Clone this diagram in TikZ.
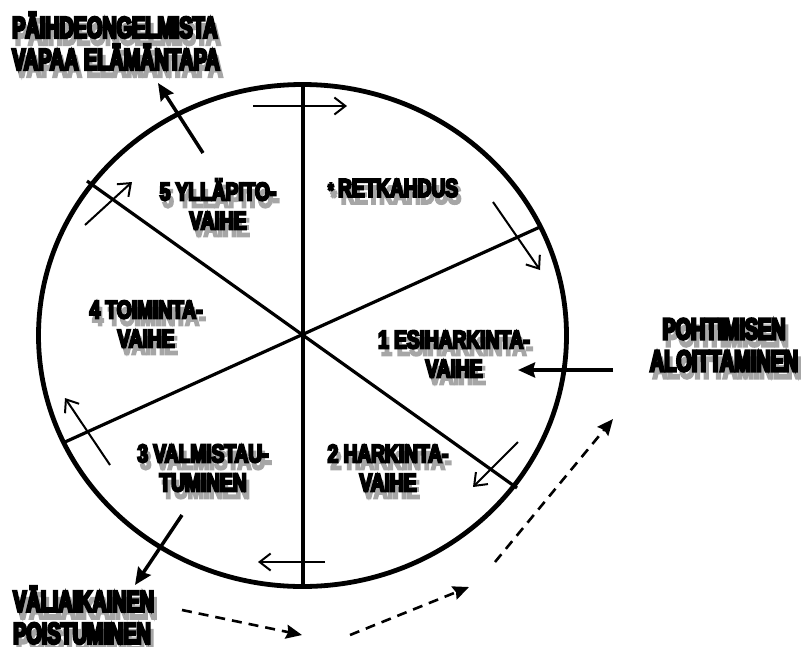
\documentclass[tikz,border=0pt]{standalone}
\usepackage{fontspec}
\usetikzlibrary{arrows.meta}
\newfontfamily\impfont{Liberation Sans Bold}[FakeStretch=0.66,FakeBold=8]
\newfontfamily\impfontb{Liberation Sans Bold}[FakeStretch=0.75,FakeBold=8]
\newcommand\shlabel[4]{%
  \node[#2,shd] (#1s) at ([shift={(3,7)}]#3) {#4};
  \node[#2] (#1) at (#3) {#4};}
\begin{document}
\begin{tikzpicture}[x=1pt,y=-1pt,
  lbl/.style={font=\impfontb\fontsize{25.5}{29}\selectfont, align=center, inner sep=0pt, text=black},
  lblbig/.style={font=\impfont\fontsize{30}{32}\selectfont, inner sep=0pt, text=black},
  shd/.style={text=black!35},
  rim/.style={line width=4.8pt},
  spoke/.style={line width=3.2pt},
  flow/.style={line width=2pt, -{Straight Barb[length=11pt,width=17pt]}},
  solidarr/.style={line width=3.5pt, -{Stealth[length=17pt,width=15pt,inset=2pt]}},
  dasharr/.style={line width=2.6pt, dash pattern=on 10pt off 7pt, -{Stealth[length=16pt,width=14pt,inset=2pt]}}]
\useasboundingbox (0,0) rectangle (811,646);
% circle and spokes
\coordinate (C) at (302.5,335.5);
\coordinate (vt) at (303,85);  \coordinate (vb) at (303,587);
\coordinate (d1a) at (87,181); \coordinate (d1b) at (517,488);
\coordinate (d2a) at (540,227); \coordinate (d2b) at (65,442);
\draw[rim] (C) ellipse [x radius=264, y radius=251];
\draw[spoke] (vt) -- (vb);
\draw[spoke] (d1a) -- (d1b);
\draw[spoke] (d2a) -- (d2b);
% flow arrows along the rim
\coordinate (a1s) at (253,106); \coordinate (a1e) at (347,106);
\coordinate (a2s) at (493,202); \coordinate (a2e) at (540,270);
\coordinate (a3s) at (518,442); \coordinate (a3e) at (473,487);
\coordinate (a4s) at (325,562); \coordinate (a4e) at (258,562);
\coordinate (a5s) at (110,465); \coordinate (a5e) at (65,398);
\coordinate (a6s) at (85,225);  \coordinate (a6e) at (132,182);
\draw[flow] (a1s) -- (a1e);
\draw[flow] (a2s) -- (a2e);
\draw[flow] (a3s) -- (a3e);
\draw[flow] (a4s) -- (a4e);
\draw[flow] (a5s) -- (a5e);
\draw[flow] (a6s) -- (a6e);
% labels
\shlabel{top}{lblbig,align=left,anchor=west}{12,41}{PÄIHDEONGELMISTA\\VAPAA ELÄMÄNTAPA}
\shlabel{start}{lblbig,align=center}{724,345}{POHTIMISEN\\ALOITTAMINEN}
\shlabel{exit}{lblbig,align=left,anchor=west}{13,615}{VÄLIAIKAINEN\\POISTUMINEN}
\shlabel{s5}{lbl}{218,204}{5 YLLÄPITO-\\VAIHE}
\shlabel{rel}{lbl}{393,188}{{\fontsize{20}{20}\selectfont*}\,RETKAHDUS}
\shlabel{s4}{lbl}{146,324}{4 TOIMINTA-\\VAIHE}
\shlabel{s1}{lbl}{454,354}{1 ESIHARKINTA-\\VAIHE}
\shlabel{s2}{lbl}{388,468}{2 HARKINTA-\\VAIHE}
\shlabel{s3}{lbl}{203,468}{3 VALMISTAU-\\TUMINEN}
% solid arrows
\coordinate (b1s) at (203,153); \coordinate (b1e) at (158,83);
\coordinate (b2s) at (613,370); \coordinate (b2e) at (518,370);
\coordinate (b3s) at (182,515); \coordinate (b3e) at (135,585);
\draw[solidarr] (b1s) -- (b1e);
\draw[solidarr] (b2s) -- (b2e);
\draw[solidarr] (b3s) -- (b3e);
% dashed arrows
\coordinate (c1s) at (182,610); \coordinate (c1e) at (302,635);
\coordinate (c2s) at (350,635); \coordinate (c2e) at (469,587);
\coordinate (c3s) at (495,562); \coordinate (c3e) at (613,419);
\draw[dasharr] (c1s) -- (c1e);
\draw[dasharr] (c2s) -- (c2e);
\draw[dasharr] (c3s) -- (c3e);
\end{tikzpicture}
\end{document}
